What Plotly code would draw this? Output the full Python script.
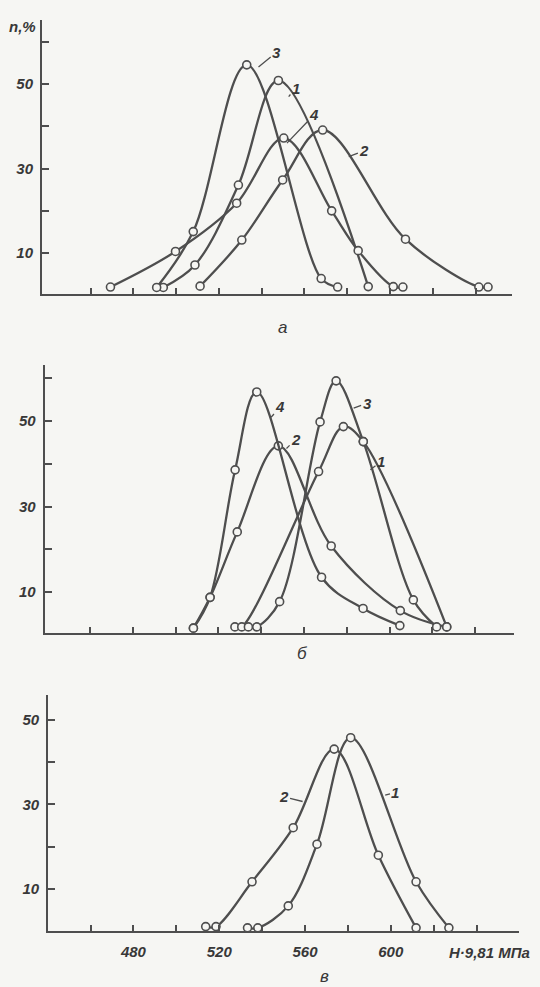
import plotly.graph_objects as go

# ---------------- data ----------------
# panel а
A1_X = [494.0, 508.8, 529.1, 547.8, 589.8]
A1_Y = [1.9, 7.2, 26.1, 50.8, 2.1]
A2_X = [511.2, 530.7, 549.8, 568.5, 607.2, 641.5, 645.8]
A2_Y = [2.2, 13.1, 27.3, 39.1, 13.3, 2.0, 2.0]
A3_X = [490.9, 508.0, 533.0, 567.8, 575.5]
A3_Y = [1.9, 15.1, 54.5, 4.0, 2.0]
A4_X = [469.3, 499.7, 528.3, 550.3, 572.7, 585.1, 601.5, 606.0]
A4_Y = [2.0, 10.4, 21.8, 37.2, 20.0, 10.6, 2.1, 2.0]

# panel б
B1_X = [527.7, 530.9, 566.8, 578.4, 587.7, 626.7]
B1_Y = [1.9, 1.9, 38.2, 48.7, 45.2, 1.9]
B2_X = [508.3, 516.1, 528.8, 548.0, 572.7, 605.0, 626.7]
B2_Y = [1.6, 8.8, 24.1, 44.2, 20.8, 5.7, 1.9]
B3_X = [534.0, 537.9, 548.6, 567.5, 575.0, 587.7, 611.1, 622.0]
B3_Y = [1.9, 1.9, 7.8, 49.8, 59.4, 45.2, 8.2, 1.9]
B4_X = [508.3, 516.1, 527.8, 537.9, 568.2, 587.6, 604.8]
B4_Y = [1.6, 8.8, 38.6, 56.8, 13.5, 6.2, 2.2]

# panel в
C1_X = [533.2, 538.0, 552.2, 565.6, 581.3, 611.8, 627.1]
C1_Y = [0.8, 0.8, 6.0, 20.6, 45.8, 11.7, 0.8]
C2_X = [513.7, 518.5, 535.3, 554.5, 573.6, 594.2, 611.8]
C2_Y = [1.1, 1.1, 11.7, 24.5, 43.1, 18.0, 0.8]

X_TICKS = [460, 480, 500, 520, 540, 560, 580, 600, 620, 640]
X_TICK_TEXT = ["", "480", "", "520", "", "560", "", "600", "", ""]
Y_TICKS = [10, 20, 30, 40, 50, 60]
Y_TICK_TEXT = ["10", "", "30", "", "50", ""]

# curve number labels: (text, curve x, curve y, label x, label y)
A_LABELS = [("3", 538.5, 54.0, 547.0, 57.5), ("1", 552.6, 47.0, 556.0, 49.0),
            ("4", 551.8, 36.0, 564.6, 42.8), ("2", 580.7, 32.8, 588.0, 34.2)]
B_LABELS = [("4", 544.6, 50.9, 549.0, 53.3), ("2", 551.8, 43.6, 556.3, 45.8),
            ("3", 583.2, 53.0, 589.5, 54.2), ("1", 591.0, 38.6, 596.0, 40.6)]
C_LABELS = [("2", 558.9, 30.7, 550.0, 31.8), ("1", 597.4, 32.2, 602.2, 32.8)]

# ---------------- styling ----------------
BG = "#f6f6f3"
INK = "#4e4e4e"
TXT = "#383838"
FONT = "Liberation Sans, Arial, sans-serif"
W, H = 540, 987

fig = go.Figure()


def add_curve(xs, ys, ax):
    fig.add_trace(go.Scatter(
        x=xs, y=ys, mode="lines+markers", xaxis="x" + ax, yaxis="y" + ax,
        line=dict(color=INK, width=2.3, shape="spline", smoothing=1.0),
        marker=dict(symbol="circle", size=8, color=BG,
                    line=dict(color=INK, width=1.6)),
        cliponaxis=False, showlegend=False, hoverinfo="skip"))


for xs, ys in [(A1_X, A1_Y), (A2_X, A2_Y), (A3_X, A3_Y), (A4_X, A4_Y)]:
    add_curve(xs, ys, "")
for xs, ys in [(B1_X, B1_Y), (B2_X, B2_Y), (B3_X, B3_Y), (B4_X, B4_Y)]:
    add_curve(xs, ys, "2")
for xs, ys in [(C1_X, C1_Y), (C2_X, C2_Y)]:
    add_curve(xs, ys, "3")


def px_dom(a, b, total):
    return [a / total, b / total]


def ydom(top_px, bot_px):
    return [1 - bot_px / H, 1 - top_px / H]


TICKFONT = dict(family=FONT, size=15, color=TXT, style="italic", weight="bold")


def xaxis(dom, rng, labels):
    return dict(domain=dom, range=rng, showline=True, linecolor=INK, linewidth=2,
                ticks="inside", ticklen=6, tickwidth=1.6, tickcolor=INK,
                tickvals=X_TICKS, ticktext=X_TICK_TEXT if labels else [""] * len(X_TICKS),
                showgrid=False, zeroline=False, fixedrange=True, tickfont=TICKFONT,
                ticklabelstandoff=6)


def yaxis(dom, rng, anchor):
    return dict(domain=dom, range=rng, anchor=anchor, showline=True, linecolor=INK,
                linewidth=2, ticks="inside", ticklen=7, tickwidth=1.6, tickcolor=INK,
                tickvals=Y_TICKS, ticktext=Y_TICK_TEXT, showgrid=False, zeroline=False,
                fixedrange=True, ticklabelstandoff=4, tickfont=TICKFONT)


fig.update_layout(
    width=W, height=H, margin=dict(l=0, r=0, t=0, b=0),
    paper_bgcolor=BG, plot_bgcolor=BG, showlegend=False,
    xaxis=dict(xaxis(px_dom(42, 512, W), [437.3, 657.0], False), anchor="y"),
    yaxis=yaxis(ydom(20, 294), [0.35, 65.1], "x"),
    xaxis2=dict(xaxis(px_dom(44.7, 513.7, W), [438.8, 658.0], False), anchor="y2"),
    yaxis2=yaxis(ydom(365, 632.7), [0.54, 63.1], "x2"),
    xaxis3=dict(xaxis(px_dom(48.1, 519, W), [440.2, 659.8], True), anchor="y3"),
    yaxis3=yaxis(ydom(695, 930.7), [0.13, 55.9], "x3"),
)

LABFONT = dict(family=FONT, size=15, color=TXT, style="italic", weight="bold")
ann = []
for labels, ax in [(A_LABELS, ""), (B_LABELS, "2"), (C_LABELS, "3")]:
    for t, cx, cy, lx, ly in labels:
        ann.append(dict(text=t, x=cx, y=cy, ax=lx, ay=ly, xref="x" + ax, yref="y" + ax,
                        axref="x" + ax, ayref="y" + ax, showarrow=True, arrowhead=0,
                        arrowwidth=1.3, arrowcolor=INK, standoff=0, font=LABFONT))

# axis titles and panel captions
ann.append(dict(text="n,%", x=7 / W, y=1 - 26 / H, xref="paper", yref="paper",
                xanchor="left", yanchor="middle", showarrow=False, font=LABFONT))
ann.append(dict(text="H·9,81 МПа", x=532 / W, y=1 - 952 / H, xref="paper", yref="paper",
                xanchor="right", yanchor="middle", showarrow=False,
                font=dict(family=FONT, size=15, color=TXT, style="italic", weight="bold")))
for t, cx, cy in [("а", 282, 327), ("б", 302, 653), ("в", 324, 976)]:
    ann.append(dict(text=t, x=cx / W, y=1 - cy / H, xref="paper", yref="paper",
                    xanchor="center", yanchor="middle", showarrow=False,
                    font=dict(family=FONT, size=17, color=TXT, style="italic")))

fig.update_layout(annotations=ann)
fig.write_html(
    "out.html",
    config={"displayModeBar": False},
    post_script="document.body.style.margin='0';document.body.style.overflow='hidden';"
                "document.body.style.background='" + BG + "';",
)
